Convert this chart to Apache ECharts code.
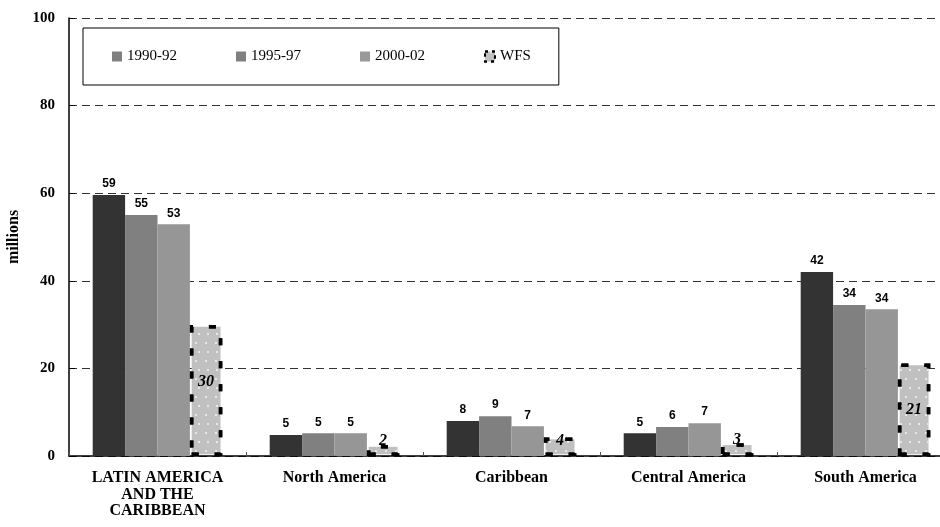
<!DOCTYPE html>
<html>
<head>
<meta charset="utf-8">
<script src="https://cdn.jsdelivr.net/npm/echarts@6/dist/echarts.min.js"></script>
<style>
html,body{margin:0;padding:0;background:#fff;}
#chart{width:940px;height:527px;}
</style>
</head>
<body>
<div id="chart"></div>
<script>
var categories = ['LATIN AMERICA\nAND THE\nCARIBBEAN', 'North America', 'Caribbean', 'Central America', 'South America'];
var seriesNames = ['1990-92', '1995-97', '2000-02', 'WFS'];
var v1990 = [59.6, 4.8, 8.0, 5.2, 42.0];
var v1995 = [55.0, 5.2, 9.1, 6.6, 34.5];
var v2000 = [52.9, 5.2, 6.8, 7.5, 33.5];
var vWFS = [29.9, 2.5, 4.2, 2.9, 21.1];
var labels1990 = ['59', '5', '8', '5', '42'];
var labels1995 = ['55', '5', '9', '6', '34'];
var labels2000 = ['53', '5', '7', '7', '34'];
var labelsWFS = ['30', '2', '4', '3', '21'];
var yTicks = [0, 20, 40, 60, 80, 100];

// style only: vertical nudges for WFS labels
var wfsLabelOffsetY = [-9, -10, -6, -10, 0];

var chart = echarts.init(document.getElementById('chart'), null, {renderer: 'canvas'});

function plainSeries(name, values, labels, color) {
  return {
    name: name,
    type: 'bar',
    barWidth: 32.4,
    barGap: '0%',
    data: values,
    itemStyle: {color: color},
    label: {
      show: true,
      position: 'top',
      distance: 5,
      fontFamily: 'Liberation Sans, Arial, sans-serif',
      fontWeight: 'bold',
      fontSize: 12,
      color: '#000',
      formatter: function (p) { return labels[p.dataIndex]; }
    }
  };
}

var wfsData = vWFS.map(function (v, i) {
  return {value: v, label: {offset: [0, wfsLabelOffsetY[i]]}};
});

var option = {
  backgroundColor: '#ffffff',
  animation: false,
  grid: {left: 69, top: 18, bottom: 71, width: 885, containLabel: false, outerBoundsMode: 'none'},
  legend: {
    left: 83,
    top: 28,
    padding: [21, 28, 21, 29],
    itemGap: 59,
    itemWidth: 10,
    itemHeight: 10,
    borderColor: '#000',
    borderWidth: 1,
    backgroundColor: '#fff',
    textStyle: {fontFamily: 'Liberation Serif, Times New Roman, serif', fontSize: 15, color: '#000'},
    data: [
      {name: '1990-92', icon: 'rect', itemStyle: {color: '#808080'}},
      {name: '1995-97', icon: 'rect', itemStyle: {color: '#808080'}},
      {name: '2000-02', icon: 'rect', itemStyle: {color: '#999999'}},
      {name: 'WFS', icon: 'rect', itemStyle: {color: '#c0c0c0', borderColor: '#000', borderWidth: 2, borderType: [3, 4]}}
    ]
  },
  xAxis: {
    type: 'category',
    data: categories,
    axisLine: {lineStyle: {color: '#000', width: 1.5}},
    axisTick: {show: true, inside: true, length: 4, lineStyle: {color: '#555'}},
    axisLabel: {
      interval: 0,
      margin: 14,
      fontFamily: 'Liberation Serif, Times New Roman, serif',
      fontWeight: 'bold',
      fontSize: 16,
      lineHeight: 16.5,
      color: '#000'
    }
  },
  yAxis: {
    type: 'value',
    min: 0,
    max: 100,
    interval: 20,
    name: 'millions',
    nameLocation: 'middle',
    nameGap: 42,
    nameRotate: 90,
    nameTextStyle: {fontFamily: 'Liberation Serif, Times New Roman, serif', fontWeight: 'bold', fontSize: 16, color: '#000'},
    axisLine: {show: true, lineStyle: {color: '#000', width: 1.5}},
    axisTick: {show: true, inside: true, length: 6, lineStyle: {color: '#000'}},
    axisLabel: {
      margin: 14,
      fontFamily: 'Liberation Serif, Times New Roman, serif',
      fontWeight: 'bold',
      fontSize: 15,
      color: '#000',
      formatter: function (v) { return yTicks.indexOf(v) >= 0 ? String(v) : ''; }
    },
    splitLine: {show: true, lineStyle: {color: '#333', width: 1, type: [8, 5]}}
  },
  series: [
    plainSeries('1990-92', v1990, labels1990, '#333333'),
    plainSeries('1995-97', v1995, labels1995, '#808080'),
    plainSeries('2000-02', v2000, labels2000, '#969696'),
    {
      name: 'WFS',
      type: 'bar',
      barWidth: 32.4,
      barGap: '0%',
      data: wfsData,
      itemStyle: {
        color: '#c0c0c0',
        borderColor: '#000',
        borderWidth: 3.5,
        borderType: [7, 16],
        decal: {
          symbol: 'circle',
          symbolSize: 1,
          color: '#f5f5f5',
          dashArrayX: [[2, 7], [0, 4.5, 2, 2.5]],
          dashArrayY: [2, 7]
        }
      },
      label: {
        show: true,
        position: 'inside',
        fontFamily: 'Liberation Serif, Times New Roman, serif',
        fontWeight: 'bold',
        fontStyle: 'italic',
        fontSize: 16,
        color: '#000',
        formatter: function (p) { return labelsWFS[p.dataIndex]; }
      }
    }
  ]
};
chart.setOption(option);
</script>
</body>
</html>
